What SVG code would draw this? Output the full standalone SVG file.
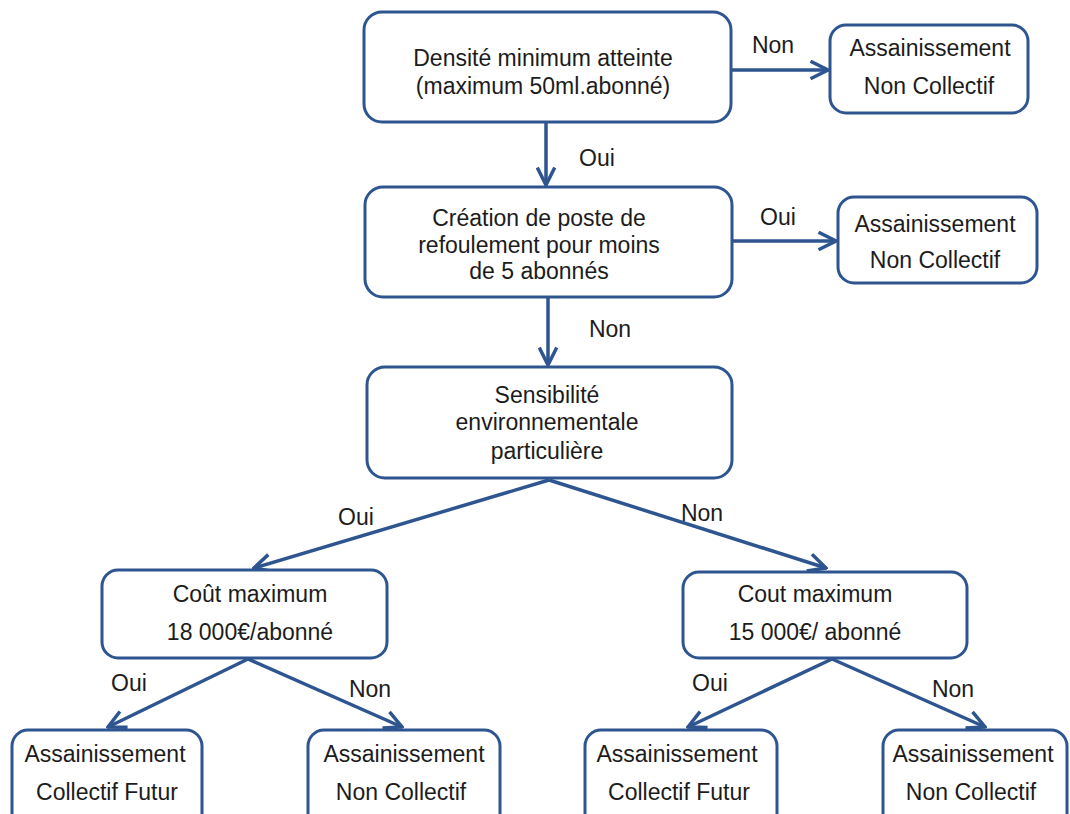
<svg xmlns="http://www.w3.org/2000/svg" width="1070" height="814" viewBox="0 0 1070 814">
<defs>
<marker id="arr" viewBox="0 0 12 12" refX="11" refY="6" markerWidth="6" markerHeight="6" markerUnits="strokeWidth" orient="auto">
<polyline points="1,1 11,6 1,11" fill="none" stroke="#2E5590" stroke-width="2" stroke-linejoin="miter"/>
</marker>
<style>
.box{fill:#ffffff;stroke:#2E5590;stroke-width:3}
.t{font-family:"Liberation Sans",Arial,sans-serif;font-size:23px;fill:#1c1c1c;text-anchor:middle}
.lbl{font-family:"Liberation Sans",Arial,sans-serif;font-size:23px;fill:#1c1c1c;text-anchor:middle}
.c{stroke:#2E5590;stroke-width:3.5;fill:none;marker-end:url(#arr)}
</style>
</defs>
<rect width="1070" height="814" fill="#ffffff"/>
<g id="connectors">
<line class="c" x1="731" y1="70" x2="828" y2="70"/>
<line class="c" x1="546" y1="122" x2="546" y2="185"/>
<line class="c" x1="731" y1="241" x2="836" y2="241"/>
<line class="c" x1="548" y1="297" x2="548" y2="365"/>
<line class="c" x1="549" y1="480" x2="254" y2="568"/>
<line class="c" x1="549" y1="480" x2="826" y2="568"/>
<line class="c" x1="248" y1="659" x2="108" y2="727"/>
<line class="c" x1="248" y1="659" x2="402" y2="727"/>
<line class="c" x1="832" y1="659" x2="688" y2="727"/>
<line class="c" x1="832" y1="659" x2="985" y2="727"/>
<text class="lbl" x="773" y="53">Non</text>
<text class="lbl" x="597" y="166">Oui</text>
<text class="lbl" x="778" y="225">Oui</text>
<text class="lbl" x="610" y="337">Non</text>
<text class="lbl" x="356" y="525">Oui</text>
<text class="lbl" x="702" y="521">Non</text>
<text class="lbl" x="129" y="691">Oui</text>
<text class="lbl" x="370" y="697">Non</text>
<text class="lbl" x="710" y="691">Oui</text>
<text class="lbl" x="953" y="697">Non</text>
</g>
<g id="n1">
<rect class="box" x="364" y="12" width="367" height="110" rx="18"/>
<text class="t" x="543" y="66">Densité minimum atteinte</text>
<text class="t" x="543" y="94">(maximum 50ml.abonné)</text>
</g>
<g id="n2">
<rect class="box" x="830" y="25" width="198" height="88" rx="16"/>
<text class="t" x="930" y="56">Assainissement</text>
<text class="t" x="929" y="94">Non Collectif</text>
</g>
<g id="n3">
<rect class="box" x="365" y="187" width="367" height="110" rx="18"/>
<text class="t" x="539" y="226">Création de poste de</text>
<text class="t" x="539" y="253">refoulement pour moins</text>
<text class="t" x="539" y="279">de 5 abonnés</text>
</g>
<g id="n4">
<rect class="box" x="838" y="197" width="199" height="86" rx="16"/>
<text class="t" x="935" y="232">Assainissement</text>
<text class="t" x="935" y="268">Non Collectif</text>
</g>
<g id="n5">
<rect class="box" x="367" y="367" width="365" height="111" rx="18"/>
<text class="t" x="547" y="403">Sensibilité</text>
<text class="t" x="547" y="430">environnementale</text>
<text class="t" x="547" y="459">particulière</text>
</g>
<g id="n6">
<rect class="box" x="102" y="570" width="285" height="88" rx="16"/>
<text class="t" x="250" y="602">Coût maximum</text>
<text class="t" x="250" y="640">18 000€/abonné</text>
</g>
<g id="n7">
<rect class="box" x="683" y="572" width="284" height="86" rx="16"/>
<text class="t" x="815" y="602">Cout maximum</text>
<text class="t" x="815" y="640">15 000€/ abonné</text>
</g>
<g id="n8">
<rect class="box" x="12" y="730" width="190" height="100" rx="16"/>
<text class="t" x="105" y="762">Assainissement</text>
<text class="t" x="107" y="800">Collectif Futur</text>
</g>
<g id="n9">
<rect class="box" x="308" y="730" width="192" height="100" rx="16"/>
<text class="t" x="404" y="762">Assainissement</text>
<text class="t" x="401" y="800">Non Collectif</text>
</g>
<g id="n10">
<rect class="box" x="585" y="730" width="192" height="100" rx="16"/>
<text class="t" x="677" y="762">Assainissement</text>
<text class="t" x="679" y="800">Collectif Futur</text>
</g>
<g id="n11">
<rect class="box" x="883" y="730" width="184" height="100" rx="16"/>
<text class="t" x="973" y="762">Assainissement</text>
<text class="t" x="971" y="800">Non Collectif</text>
</g>
</svg>
